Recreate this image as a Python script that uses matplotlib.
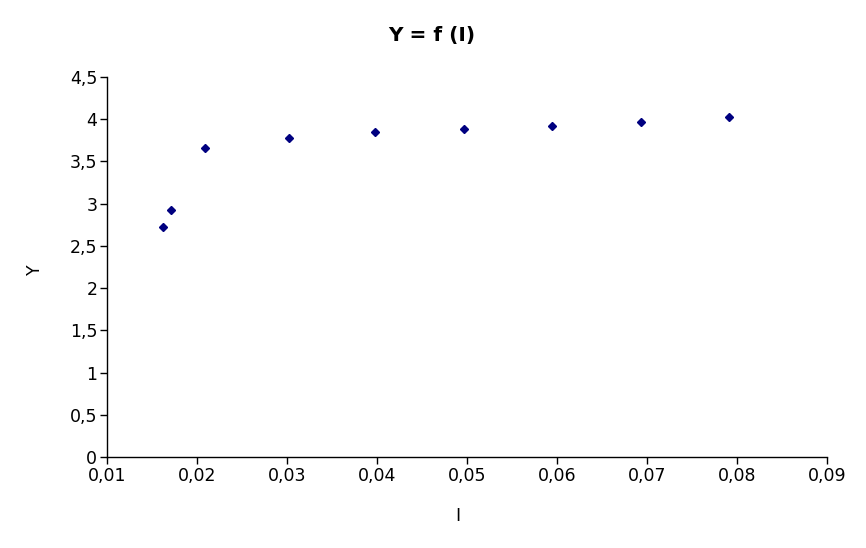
import matplotlib
matplotlib.use("Agg")
import matplotlib.pyplot as plt
from matplotlib.ticker import FuncFormatter

I_vals = [0.01619, 0.01708, 0.02086, 0.03022, 0.03982, 0.04963, 0.05941, 0.06933, 0.07911]
Y_vals = [2.72, 2.92, 3.656, 3.78, 3.853, 3.888, 3.924, 3.967, 4.023]

x_ticks = [0.01, 0.02, 0.03, 0.04, 0.05, 0.06, 0.07, 0.08, 0.09]
y_ticks = [0, 0.5, 1, 1.5, 2, 2.5, 3, 3.5, 4, 4.5]

fig = plt.figure(figsize=(8.66, 5.48), dpi=100)
ax = fig.add_axes([107/866, 91/548, 720/866, 380/548])

ax.plot(I_vals, Y_vals, linestyle='none', marker='D', markersize=4.5,
        color='#000080', markeredgecolor='#000080')

ax.set_xlim(0.01, 0.09)
ax.set_ylim(0, 4.5)
ax.set_xticks(x_ticks)
ax.set_yticks(y_ticks)

def fmt(v, pos):
    s = ('%.2f' % v).rstrip('0').rstrip('.')
    return s.replace('.', ',')

ax.xaxis.set_major_formatter(FuncFormatter(fmt))
ax.yaxis.set_major_formatter(FuncFormatter(fmt))

for sp in ['top', 'right']:
    ax.spines[sp].set_visible(False)
for sp in ['left', 'bottom']:
    ax.spines[sp].set_linewidth(1.0)
    ax.spines[sp].set_color('black')

ax.tick_params(direction='out', length=5, width=1, labelsize=12.5, colors='black', pad=2)

fig.text(432/866, 1 - 36/548, 'Y = f (I)', fontsize=14.5, fontweight='bold',
         ha='center', va='center')
fig.text(458/866, 1 - 516/548, 'I', fontsize=12.5, ha='center', va='center')
fig.text(35/866, 1 - 270/548, 'Y', fontsize=12.5, ha='center', va='center', rotation=90)

fig.savefig('out.png', dpi=100)
